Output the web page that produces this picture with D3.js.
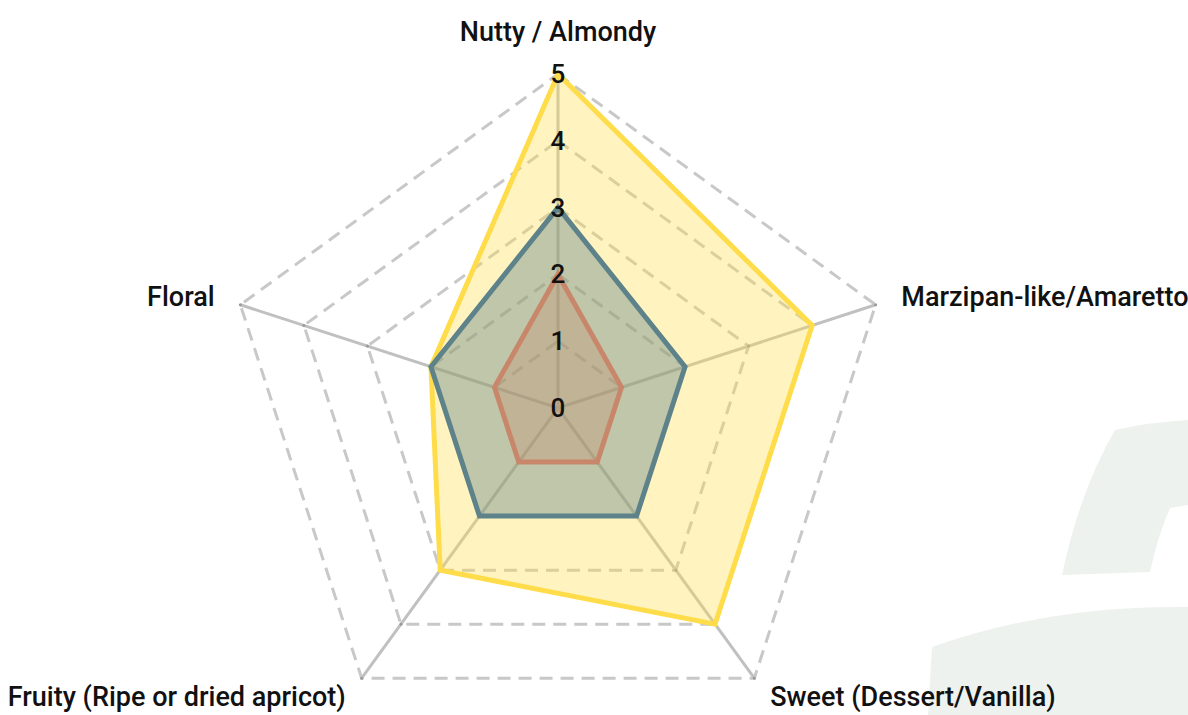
<!DOCTYPE html>
<html>
<head>
<meta charset="utf-8">
<script src="https://cdn.jsdelivr.net/npm/d3@7"></script>
<style>
  html, body { margin: 0; padding: 0; background: #fff; }
  svg { display: block; }
  text { font-family: Roboto, "Open Sans", sans-serif; fill: #111; }
</style>
</head>
<body>
<svg id="chart" width="1188" height="715"></svg>
<script>
// axes of the radar
const axes = ["Nutty / Almondy", "Marzipan-like/Amaretto", "Sweet (Dessert/Vanilla)", "Fruity (Ripe or dried apricot)", "Floral"];

// series values, same order as axes
const yellowValues = [5, 4, 4, 3, 2];
const blueValues = [3, 2, 2, 2, 2];
const orangeValues = [2, 1, 1, 1, 1];

const tickValues = [0, 1, 2, 3, 4, 5];

const series = [
  { name: "yellow", values: yellowValues, stroke: "#ffdc4a", fill: "rgba(255,220,74,0.35)" },
  { name: "blue", values: blueValues, stroke: "#5e828a", fill: "rgba(94,130,138,0.4)" },
  { name: "orange", values: orangeValues, stroke: "#c8876a", fill: "rgba(200,135,106,0.3)" }
];

const svg = d3.select("#chart");
const cx = 558, cy = 408;

const r = d3.scaleLinear().domain([0, 5]).range([0, 334]);
const angle = d3.scaleLinear().domain([0, axes.length]).range([0, 2 * Math.PI]);

// point on axis i at value v
const pt = (i, v) => {
  const a = angle(i) - Math.PI / 2;
  return [cx + r(v) * Math.cos(a), cy + r(v) * Math.sin(a)];
};

// background watermark shapes
const bg = svg.append("g").attr("fill", "#eef2ee");
bg.append("path").attr("d", "M1115,430 Q1150,422 1188,420 L1188,505 L1170,508 Q1158,535 1150,572 L1062,575 Q1080,490 1115,430 Z");
bg.append("path").attr("d", "M932,647 Q1050,605 1188,607 L1188,715 L928,715 Z");

// grid rings (dashed)
const grid = svg.append("g");
tickValues.slice(1).forEach(t => {
  const ring = axes.map((_, i) => pt(i, t));
  grid.append("path")
    .attr("d", d3.line()(ring) + "Z")
    .attr("fill", "none")
    .attr("stroke", "#c8c8c8")
    .attr("stroke-width", 3)
    .attr("stroke-dasharray", "13,8");
});

// spokes
axes.forEach((_, i) => {
  const [x, y] = pt(i, 5);
  grid.append("line")
    .attr("x1", cx).attr("y1", cy)
    .attr("x2", x).attr("y2", y)
    .attr("stroke", "#c0c0c0")
    .attr("stroke-width", 3);
  tickValues.slice(1).forEach(t => {
    const [px, py] = pt(i, t);
    grid.append("circle").attr("cx", px).attr("cy", py).attr("r", 1.5).attr("fill", "#9a9a9a");
  });
});

// data polygons
const polys = svg.append("g");
series.forEach(s => {
  const pts = s.values.map((v, i) => pt(i, v));
  polys.append("path")
    .attr("d", d3.line()(pts) + "Z")
    .attr("fill", s.fill)
    .attr("stroke", s.stroke)
    .attr("stroke-width", 5)
    .attr("stroke-linejoin", "miter");
});

// tick labels on the first axis
svg.append("g").selectAll("text")
  .data(tickValues)
  .enter()
  .append("text")
  .attr("x", cx)
  .attr("y", d => cy - r(d))
  .attr("text-anchor", "middle")
  .attr("dominant-baseline", "central")
  .style("font-size", "26px")
  .style("font-weight", 500)
  .text(d => d);

// axis labels
const labelPad = 27;
svg.append("g").selectAll("text")
  .data(axes)
  .enter()
  .append("text")
  .each(function (d, i) {
    const a = angle(i) - Math.PI / 2;
    const rr = r(5) + labelPad;
    const x = cx + rr * Math.cos(a);
    const y = cy + rr * Math.sin(a);
    const c = Math.cos(a);
    const t = d3.select(this)
      .attr("x", x)
      .style("font-size", "27px")
      .style("font-weight", 500);
    if (Math.abs(c) < 0.01) {
      t.attr("y", y - 6).attr("text-anchor", "middle");
    } else {
      // bottom labels nudged up so descenders stay inside
      t.attr("y", y + (Math.sin(a) > 0.5 ? -3 : 1)).attr("dominant-baseline", "central")
        .attr("text-anchor", c > 0 ? "start" : "end");
    }
    t.text(d);
  });
</script>
</body>
</html>
